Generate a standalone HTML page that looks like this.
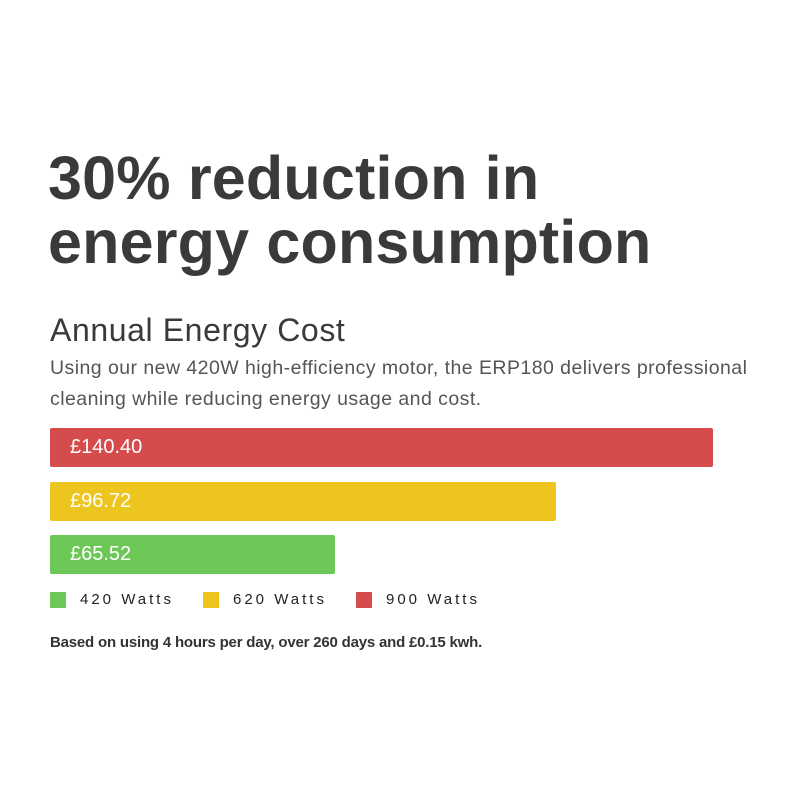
<!DOCTYPE html>
<html><head><style>
body{margin:0;width:800px;height:800px;background:#fff;font-family:"Liberation Sans",sans-serif;position:relative;overflow:hidden}
.a{position:absolute;white-space:nowrap}
h1{position:absolute;left:48px;top:146px;margin:0;font-size:61px;line-height:64px;font-weight:bold;color:#3a3a3a;letter-spacing:0.2px}
.bar{position:absolute;left:50px;height:39px;border-radius:2px;color:#fff;font-size:20px;line-height:39px;padding-left:20px;box-sizing:border-box}
.sq{position:absolute;top:592px;width:16px;height:16px;border-radius:1px}
.lg{position:absolute;top:591px;font-size:15px;letter-spacing:3px;color:#222}
</style></head><body>
<h1>30% reduction in<br>energy consumption</h1>
<div class="a" style="left:50px;top:312px;font-size:32px;color:#3a3a3a;letter-spacing:0.6px">Annual Energy Cost</div>
<div class="a" style="left:50px;top:353px;font-size:19.5px;line-height:31px;color:#555;letter-spacing:0.45px">Using our new 420W high-efficiency motor, the ERP180 delivers professional<br>cleaning while reducing energy usage and cost.</div>
<div class="bar" style="top:428px;width:663px;background:#d64c4c">£140.40</div>
<div class="bar" style="top:482px;width:506px;background:#ecc51f">£96.72</div>
<div class="bar" style="top:535px;width:285px;background:#6cc756">£65.52</div>
<div class="sq" style="left:50px;background:#6cc756"></div><div class="lg" style="left:80px">420 Watts</div>
<div class="sq" style="left:203px;background:#ecc51f"></div><div class="lg" style="left:233px">620 Watts</div>
<div class="sq" style="left:356px;background:#d64c4c"></div><div class="lg" style="left:386px">900 Watts</div>
<div class="a" style="left:50px;top:634px;font-size:15px;color:#333;font-weight:bold;letter-spacing:-0.2px">Based on using 4 hours per day, over 260 days and £0.15 kwh.</div>
</body></html>
